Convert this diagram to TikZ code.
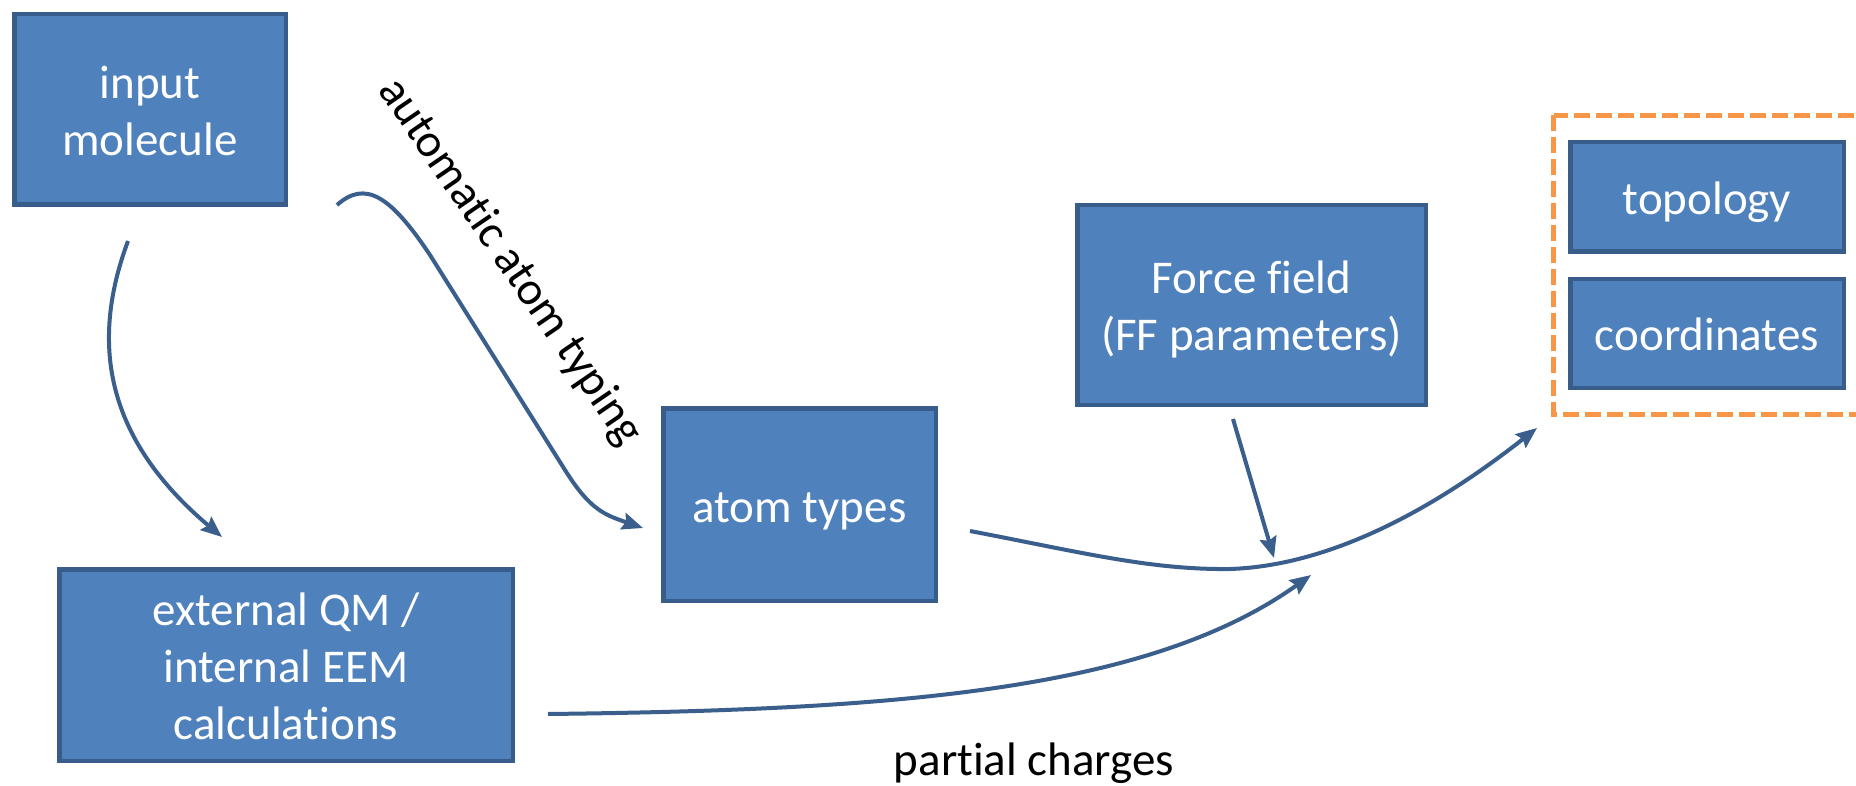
\documentclass[tikz,border=0pt]{standalone}
\usepackage{fontspec}
\setmainfont{Carlito}[Ligatures=NoCommon]
\usetikzlibrary{arrows.meta}
\definecolor{boxfill}{HTML}{4F81BD}
\definecolor{boxline}{HTML}{385D8A}
\definecolor{flowline}{HTML}{3A5F8C}
\definecolor{groupline}{HTML}{F79646}
% one text line of fixed height and depth, so box texts centre like slide text
\newcommand\lnstrut{\rule[-11pt]{0pt}{57pt}}
\begin{document}
\begin{tikzpicture}[x=1pt,y=-1pt,
  stepbox/.style={draw=boxline, line width=4.5pt, fill=boxfill, text=white,
    inner sep=0pt, align=center, font=\fontsize{47}{57}\selectfont},
  flow/.style={draw=flowline, line width=4pt, line cap=butt,
    -{Stealth[length=21pt,width=17pt,inset=3pt]}},
  lbl/.style={font=\fontsize{47}{57}\selectfont, text=black, inner sep=0pt}]
\clip (0,0) rectangle (1856,786);
\fill[white] (0,0) rectangle (1856,786);

% output group
\draw[groupline, line width=5pt, dash pattern=on 16pt off 6pt]
  (1553.5,115.5) rectangle (1900,414);

% boxes
\node[stepbox, minimum width=271.5pt, minimum height=190.5pt] (inp) at (150,109.5)
  {\lnstrut input\\\lnstrut molecule};
\node[stepbox, minimum width=453.5pt, minimum height=191.5pt] (qm) at (286,665)
  {\lnstrut external QM /\\\lnstrut internal EEM\\\lnstrut calculations};
\node[stepbox, minimum width=272.5pt, minimum height=192.5pt] (at) at (799.5,504.5)
  {\lnstrut atom types};
\node[stepbox, minimum width=348.5pt, minimum height=199.5pt] (ff) at (1251.5,305)
  {\lnstrut Force field\\\lnstrut (FF parameters)};
\node[stepbox, minimum width=273.5pt, minimum height=109.5pt] (top) at (1707,197)
  {\lnstrut topology};
\node[stepbox, minimum width=273.5pt, minimum height=108.5pt] (crd) at (1707,333.5)
  {\lnstrut coordinates};

% connector ends
\coordinate (inpout) at (128,241);
\coordinate (qmin) at (222,537);
\coordinate (typout) at (337,205);
\coordinate (atin) at (643,528);
\coordinate (atout) at (970,531);
\coordinate (grpin) at (1537,428);
\coordinate (ffout) at (1233,419);
\coordinate (ffin) at (1274,558);
\coordinate (qmout) at (548,714);
\coordinate (pcin) at (1311,575);

% connectors
\draw[flow] (inpout) .. controls (95,330) and (95,430) .. (qmin);
\draw[flow] (typout) .. controls (365,180) and (390,195) .. (430,255)
  -- (565,470) .. controls (590,510) and (605,515) .. (atin);
\draw[flow] (atout) .. controls (1080,552) and (1150,570) .. (1230,569)
  .. controls (1320,566) and (1420,520) .. (grpin);
\draw[flow] (ffout) -- (ffin);
\draw[flow] (qmout) .. controls (900,710) and (1150,690) .. (pcin);

% labels
\node[lbl, anchor=base, rotate=-55.6] (typlbl) at (500,269) {automatic atom typing};
\node[lbl, anchor=base] (pclbl) at (1034,775) {partial charges};
\end{tikzpicture}
\end{document}
